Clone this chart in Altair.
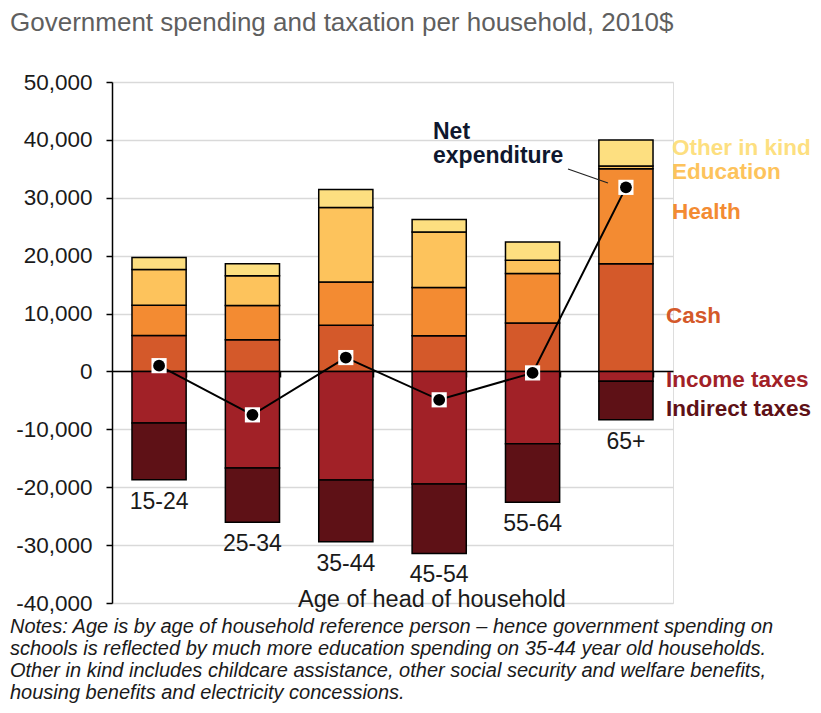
import altair as alt
import pandas as pd

ages = ["15-24", "25-34", "35-44", "45-54", "55-64", "65+"]
cash = [6230, 5480, 7960, 6170, 8360, 18600]
health = [5190, 5920, 7500, 8310, 8540, 16400]
education = [6180, 5150, 12860, 9620, 2300, 470]
other_in_kind = [2070, 2050, 3110, 2150, 3170, 4530]
income_taxes = [-8900, -16660, -18740, -19430, -12510, -1680]
indirect_taxes = [-9800, -9410, -10670, -12000, -10100, -6680]
net_expenditure = [1000, -7500, 2400, -4900, -250, 31800]

series_names = ["Cash", "Health", "Education", "Other in kind", "Income taxes", "Indirect taxes"]
series_values = [cash, health, education, other_in_kind, income_taxes, indirect_taxes]
series_colors = ["#D4592A", "#F38B32", "#FDC35C", "#FDDF80", "#A12127", "#5E1116"]

# right-hand label annotations (value position on the y scale)
label_names = ["Other in kind", "Education", "Health", "Cash", "Income taxes", "Indirect taxes"]
label_yvals = [38570, 34420, 27510, 9550, -1550, -6560]
label_xpx = [560, 560, 560, 554, 554, 554]
label_colors = ["#FDDF80", "#FDC35C", "#F38B32", "#D4592A", "#A12127", "#5E1116"]

title_text = "Government spending and taxation per household, 2010$"
x_title = "Age of head of household"
notes_text = ("Notes: Age is by age of household reference person \u2013 hence government spending on\n"
              "schools is reflected by much more education spending on 35-44 year old households.\n"
              "Other in kind includes childcare assistance, other social security and welfare benefits,\n"
              "housing benefits and electricity concessions.")

rows = []
for k, (name, vals) in enumerate(zip(series_names, series_values)):
    for a, v in zip(ages, vals):
        rows.append({"age": a, "series": name, "value": v, "ord": k})
bars_df = pd.DataFrame(rows)

net_df = pd.DataFrame({"age": ages, "net": net_expenditure})
bottom_df = pd.DataFrame({"age": ages,
                          "bottom": [i + d for i, d in zip(income_taxes, indirect_taxes)]})
lab_df = pd.DataFrame({"label": label_names, "yval": label_yvals,
                       "xpx": label_xpx, "col": label_colors})

FONT = "Liberation Sans"

x_enc = alt.X("age:N", sort=ages,
              scale=alt.Scale(paddingInner=0.42, paddingOuter=0.214),
              axis=alt.Axis(labels=False, title=None, domainColor="black", domainWidth=1.5,
                            tickColor="black", tickWidth=1.5, tickSize=6, offset=-232,
                            tickBand="extent", grid=False))
y_scale = alt.Scale(domain=[-40000, 50000], nice=False)

bars = alt.Chart(bars_df).mark_bar(stroke="black", strokeWidth=1.5).encode(
    x=x_enc,
    y=alt.Y("value:Q", stack="zero", scale=y_scale,
            axis=alt.Axis(values=list(range(-40000, 50001, 10000)),
                          labelExpr="replace(format(datum.value, ',.0f'), '\u2212', '-')",
                          labelFontSize=22.5, labelColor="#1a1a1a", labelFont=FONT,
                          tickColor="black", tickSize=6, tickWidth=1.5,
                          domainColor="black", domainWidth=1.5,
                          gridColor="#d9d9d9", gridWidth=1.5, labelPadding=14, title=None)),
    color=alt.Color("series:N", scale=alt.Scale(domain=series_names, range=series_colors),
                    legend=None),
    order=alt.Order("ord:Q"),
)

line = alt.Chart(net_df).mark_line(color="black", strokeWidth=2).encode(
    x=alt.X("age:N", sort=ages), y=alt.Y("net:Q", scale=y_scale))
sq = alt.Chart(net_df).mark_point(shape="square", filled=True, color="white", size=230, opacity=1).encode(
    x=alt.X("age:N", sort=ages), y=alt.Y("net:Q", scale=y_scale))
dots = alt.Chart(net_df).mark_point(shape="circle", filled=True, color="black", size=140, opacity=1).encode(
    x=alt.X("age:N", sort=ages), y=alt.Y("net:Q", scale=y_scale))

cat_labels = alt.Chart(bottom_df).mark_text(baseline="middle", dy=22, fontSize=23,
                                            font=FONT, color="#1a1a1a").encode(
    x=alt.X("age:N", sort=ages), y=alt.Y("bottom:Q", scale=y_scale), text="age:N")

right_labels = alt.Chart(lab_df).mark_text(align="left", baseline="middle", fontSize=22.5,
                                           font=FONT, fontWeight="bold").encode(
    x=alt.X("xpx:Q", scale=None), y=alt.Y("yval:Q", scale=y_scale),
    color=alt.Color("col:N", scale=None), text="label:N")

net_label = alt.Chart(pd.DataFrame({"t": ["Net", "expenditure"], "yy": [50, 74]})).mark_text(
    align="left", baseline="middle", fontSize=23, font=FONT, fontWeight="bold", color="#0f172e").encode(
    x=alt.value(321), y=alt.Y("yy:Q", scale=None), text="t:N")

leader = alt.Chart(pd.DataFrame({"a": [0]})).mark_rule(color="#222222", strokeWidth=1.2).encode(
    x=alt.value(456), y=alt.value(87), x2=alt.value(496), y2=alt.value(101))

title = alt.Chart(pd.DataFrame({"t": [title_text]})).mark_text(
    align="left", baseline="alphabetic", fontSize=26, font=FONT, color="#5f5f5f").encode(
    x=alt.value(-102), y=alt.value(-51.5), text="t:N")

xtitle = alt.Chart(pd.DataFrame({"t": [x_title]})).mark_text(
    align="center", baseline="middle", fontSize=23.5, font=FONT, color="#1a1a1a").encode(
    x=alt.value(320), y=alt.value(518), text="t:N")

notes = alt.Chart(pd.DataFrame({"t": [notes_text]})).mark_text(
    align="left", baseline="alphabetic", fontSize=20, font=FONT, fontStyle="italic",
    color="#1a1a1a", lineBreak="\n", lineHeight=22).encode(
    x=alt.value(-102), y=alt.value(551), text="t:N")

chart = alt.layer(bars, line, sq, dots, cat_labels, right_labels, net_label, leader,
                  title, xtitle, notes).properties(
    width=561, height=521,
    autosize=alt.AutoSizeParams(type="none"),
    padding={"left": 104, "top": 74, "right": 140, "bottom": 102},
).configure_view(stroke=None).configure(font=FONT)

chart.save("out.html", embed_options={"renderer": "svg", "actions": False})
